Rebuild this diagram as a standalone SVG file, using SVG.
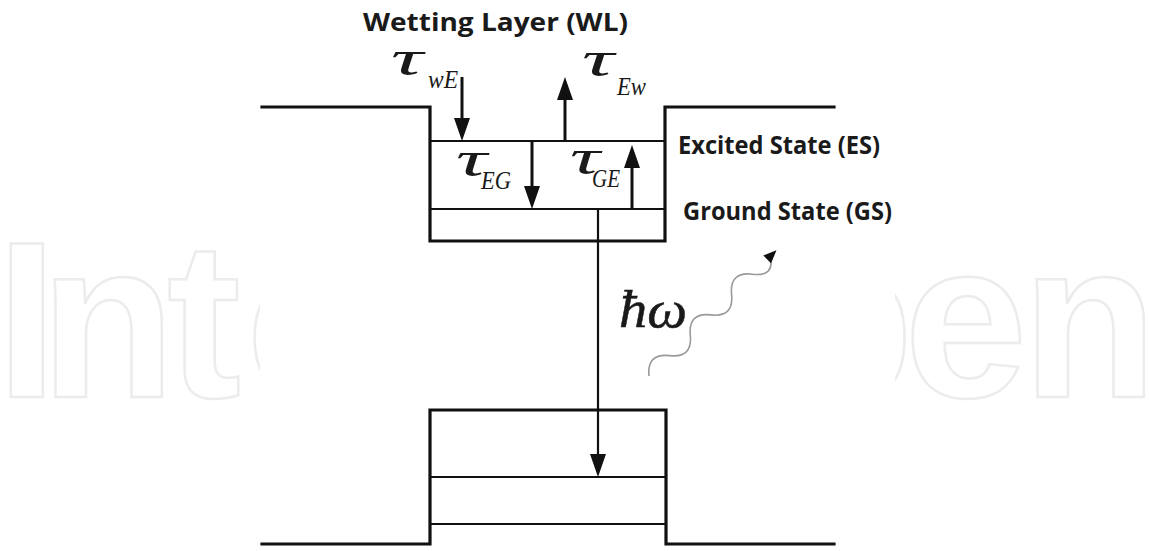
<svg xmlns="http://www.w3.org/2000/svg" width="1149" height="551" viewBox="0 0 1149 551">
<style>
.wm{font-family:"Liberation Sans",Arial,sans-serif;font-weight:bold;font-size:222px;fill:#ffffff;stroke:#ececec;stroke-width:2.5}
.lbl{font-family:"Open Sans","Liberation Sans",sans-serif;font-weight:bold;font-size:25px;fill:#1a1a1a}
.math{font-family:"Liberation Serif","Times New Roman",serif;font-style:italic;fill:#1a1a1a}
.tau{font-size:50px}
.sub{font-size:25px}
.well{fill:none;stroke:#111;stroke-width:3.2;stroke-linejoin:miter;stroke-linecap:square}
.lvl{fill:none;stroke:#111;stroke-width:2.2}
.arr{stroke:#111;stroke-width:3;fill:none}
.arrthin{stroke:#111;stroke-width:2.2;fill:none}
.photon{stroke:#9a9a9a;stroke-width:1.6;fill:none}
</style>
<defs>
<marker id="head" viewBox="0 0 23 16" markerWidth="23" markerHeight="16" refX="17" refY="8" orient="auto" markerUnits="userSpaceOnUse">
<path d="M0,0 L23,8 L0,16 Z" fill="#111"/>
</marker>
<marker id="head-small" viewBox="0 0 13 11" markerWidth="13" markerHeight="11" refX="8" refY="5.5" orient="auto" markerUnits="userSpaceOnUse">
<path d="M0,0 L13,5.5 L0,11 Z" fill="#111"/>
</marker>
</defs>
<rect width="1149" height="551" fill="#ffffff"/>
<g id="watermark">
<text class="wm" y="397"><tspan x="-4">I</tspan><tspan x="40">n</tspan><tspan x="167">t</tspan><tspan x="246">e</tspan></text>
<text class="wm" y="397"><tspan x="778">p</tspan><tspan x="904">e</tspan><tspan x="1022">n</tspan></text>
</g>
<rect x="260" y="0" width="635" height="551" fill="#ffffff"/>
<g id="upper-well">
<path class="well" d="M262,107 H430 V241 H665 V107 H834"/>
</g>
<g id="excited-state">
<line class="lvl" x1="430" y1="141" x2="665" y2="141"/>
</g>
<g id="ground-state">
<line class="lvl" x1="430" y1="209" x2="665" y2="209"/>
</g>
<g id="lower-well">
<path class="well" d="M262,544 H430 V410 H666 V544 H834"/>
<line class="lvl" x1="430" y1="477" x2="666" y2="477"/>
<line class="lvl" x1="430" y1="524" x2="666" y2="524"/>
</g>
<g id="labels">
<text class="lbl" x="363" y="31" textLength="265" lengthAdjust="spacingAndGlyphs">Wetting Layer (WL)</text>
<text class="lbl" x="678" y="154" textLength="202" lengthAdjust="spacingAndGlyphs">Excited State (ES)</text>
<text class="lbl" x="683" y="220" textLength="209" lengthAdjust="spacingAndGlyphs">Ground State (GS)</text>
</g>
<g id="tau-wE">
<text class="math tau" x="391" y="75" textLength="32" lengthAdjust="spacingAndGlyphs">τ</text>
<text class="math sub" x="428" y="88" textLength="30" lengthAdjust="spacingAndGlyphs">wE</text>
</g>
<g id="tau-Ew">
<text class="math tau" x="582" y="76" textLength="32" lengthAdjust="spacingAndGlyphs">τ</text>
<text class="math sub" x="617" y="95" textLength="29" lengthAdjust="spacingAndGlyphs">Ew</text>
</g>
<g id="tau-EG">
<text class="math tau" x="456" y="176" textLength="31" lengthAdjust="spacingAndGlyphs">τ</text>
<text class="math sub" x="481" y="189" textLength="30" lengthAdjust="spacingAndGlyphs">EG</text>
</g>
<g id="tau-GE">
<text class="math tau" x="570" y="174" textLength="30" lengthAdjust="spacingAndGlyphs">τ</text>
<text class="math sub" x="592" y="187" textLength="28" lengthAdjust="spacingAndGlyphs">GE</text>
</g>
<g id="photon-label">
<text class="math" x="619" y="327" font-size="52" textLength="68" lengthAdjust="spacingAndGlyphs" stroke="#1a1a1a" stroke-width="0.5">ħω</text>
</g>
<g id="connectors">
<line class="arr" x1="462" y1="77" x2="462" y2="135" marker-end="url(#head)"/>
<line class="arr" x1="565" y1="141" x2="565" y2="83" marker-end="url(#head)"/>
<line class="arr" x1="532" y1="141" x2="532" y2="203" marker-end="url(#head)"/>
<line class="arr" x1="632" y1="209" x2="632" y2="151" marker-end="url(#head)"/>
<line class="arrthin" x1="598" y1="209" x2="598" y2="471" marker-end="url(#head)"/>
<path class="photon" transform="translate(649,376) rotate(-44.6)" d="M0,0 Q14.5,-18 29,0 T58,0 T87,0 T116,0 T145,0 T170,0 L174,0" marker-end="url(#head-small)"/>
</g>
</svg>
